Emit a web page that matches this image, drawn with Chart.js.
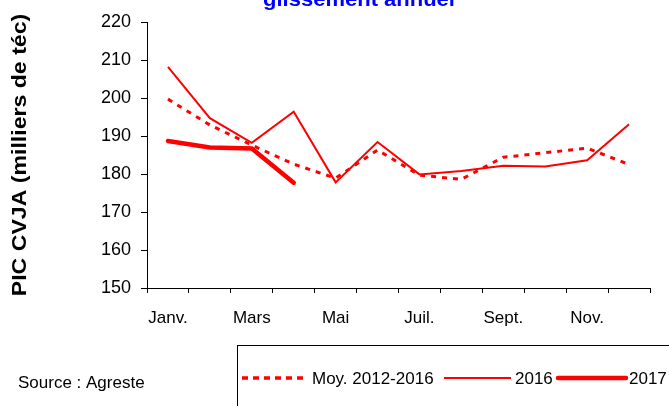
<!DOCTYPE html>
<html>
<head>
<meta charset="utf-8">
<script src="https://cdn.jsdelivr.net/npm/chart.js@4/dist/chart.umd.min.js"></script>
<style>
  html, body { margin: 0; padding: 0; background: #fff; }
  #wrap { width: 669px; height: 406px; position: relative; }
</style>
</head>
<body>
<div id="wrap"><canvas id="c" width="669" height="406"></canvas></div>
<script>
// ---- data ----
const months = ['Janv.', 'Févr.', 'Mars', 'Avril', 'Mai', 'Juin', 'Juil.', 'Août', 'Sept.', 'Oct.', 'Nov.', 'Déc.'];
const moy20122016 = [199.7, 192.9, 187.6, 182.6, 178.9, 186.3, 179.7, 178.6, 184.4, 185.6, 186.8, 182.5];
const y2016 = [208.2, 194.7, 188.2, 196.4, 177.8, 188.4, 179.9, 180.8, 182.2, 182.0, 183.6, 193.1];
const y2017 = [188.7, 187.0, 186.7, 177.7, null, null, null, null, null, null, null, null];
const yTicks = [150, 160, 170, 180, 190, 200, 210, 220];
const seriesNames = ['Moy. 2012-2016', '2016', '2017'];
const titleText = 'glissement annuel';
const yTitleText = 'PIC CVJA (milliers de téc)';
const sourceText = 'Source : Agreste';

const FONT = '"Liberation Sans", Arial, sans-serif';
const RED = '#FF0000';

const decor = {
  id: 'decor',
  afterDraw(chart) {
    const ctx = chart.ctx;
    ctx.save();
    // title (cut off at top)
    ctx.save();
    ctx.translate(359, 6);
    ctx.scale(1.1, 1);
    ctx.font = 'bold 20px ' + FONT;
    ctx.fillStyle = '#0000FF';
    ctx.textAlign = 'center';
    ctx.textBaseline = 'alphabetic';
    ctx.fillText(titleText, 0, 0);
    ctx.restore();

    // y title
    ctx.save();
    ctx.translate(26, 155);
    ctx.rotate(-Math.PI / 2);
    ctx.scale(1.1, 1);
    ctx.font = 'bold 21px ' + FONT;
    ctx.fillStyle = '#000';
    ctx.textAlign = 'center';
    ctx.textBaseline = 'alphabetic';
    ctx.fillText(yTitleText, 0, 0);
    ctx.restore();

    // source
    ctx.font = '17px ' + FONT;
    ctx.fillStyle = '#000';
    ctx.textAlign = 'left';
    ctx.textBaseline = 'middle';
    ctx.fillText(sourceText, 18, 383);

    // legend box
    ctx.strokeStyle = '#000';
    ctx.lineWidth = 1;
    ctx.strokeRect(237.5, 345.5, 500, 100);

    const ly = 378;
    const ds = chart.data.datasets;
    const items = [
      { x1: 242, x2: 307, tx: 312 },
      { x1: 444, x2: 511, tx: 515 },
      { x1: 558, x2: 626, tx: 629 }
    ];
    items.forEach((it, i) => {
      const d = ds[i];
      ctx.save();
      ctx.strokeStyle = d.borderColor;
      ctx.lineWidth = i === 0 ? 3.5 : d.borderWidth;
      ctx.setLineDash(i === 0 ? [6, 5] : []);
      ctx.lineCap = i === 2 ? 'round' : 'butt';
      ctx.beginPath();
      ctx.moveTo(it.x1, ly);
      ctx.lineTo(it.x2, ly);
      ctx.stroke();
      ctx.restore();
      ctx.font = '17px ' + FONT;
      ctx.fillStyle = '#000';
      ctx.textAlign = 'left';
      ctx.textBaseline = 'middle';
      ctx.fillText(d.label, it.tx, ly + 1);
    });
    ctx.restore();
  }
};

new Chart(document.getElementById('c'), {
  type: 'line',
  data: {
    labels: months,
    datasets: [
      { label: seriesNames[0], data: moy20122016, borderColor: RED, borderWidth: 3, borderDash: [5, 6], pointRadius: 0, tension: 0, fill: false },
      { label: seriesNames[1], data: y2016, borderColor: RED, borderWidth: 2, pointRadius: 0, tension: 0, fill: false },
      { label: seriesNames[2], data: y2017, borderColor: RED, borderWidth: 4.5, pointRadius: 0, tension: 0, fill: false, borderCapStyle: 'round', spanGaps: false }
    ]
  },
  options: {
    responsive: false,
    animation: false,
    devicePixelRatio: 1,
    layout: { padding: { top: 22, right: 19, left: 0, bottom: 68 } },
    plugins: { legend: { display: false }, title: { display: false }, tooltip: { enabled: false } },
    scales: {
      x: {
        type: 'category',
        offset: true,
        grid: { display: true, offset: true, drawOnChartArea: false, drawTicks: true, tickLength: 5, color: '#000' },
        border: { display: true, color: '#000', width: 1 },
        ticks: {
          autoSkip: false, maxRotation: 0, minRotation: 0, padding: 15,
          color: '#000', font: { family: FONT, size: 17 },
          callback: function (v, i) { return i % 2 === 0 ? months[i] : ''; }
        },
        afterFit: function (s) { s.height = 50; }
      },
      y: {
        min: yTicks[0], max: yTicks[yTicks.length - 1],
        grid: { display: true, drawOnChartArea: false, drawTicks: true, tickLength: 6, color: '#000' },
        border: { display: true, color: '#000', width: 1 },
        ticks: {
          stepSize: 10, padding: 10, color: '#000', font: { family: FONT, size: 18 },
          callback: function (v) { return yTicks.includes(v) ? String(v) : ''; }
        },
        afterFit: function (s) { s.width = 147; }
      }
    }
  },
  plugins: [decor]
});
</script>
</body>
</html>
